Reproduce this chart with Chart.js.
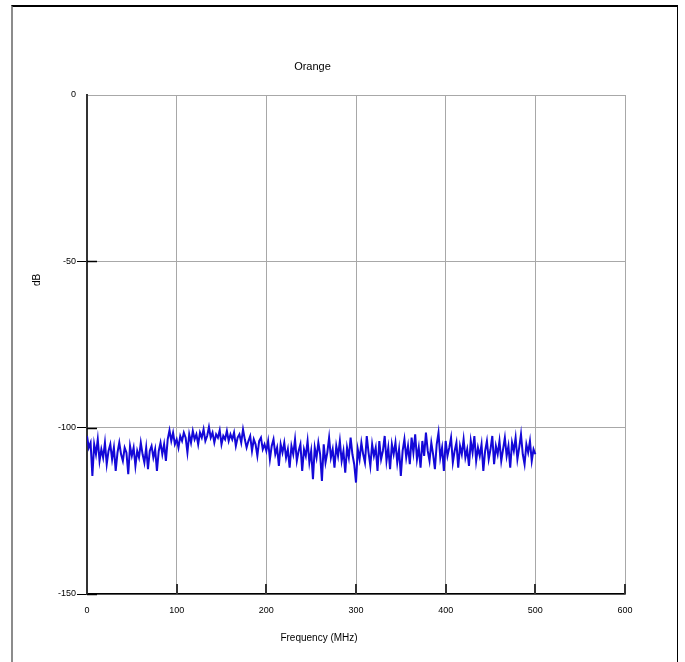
<!DOCTYPE html>
<html>
<head>
<meta charset="utf-8">
<title>Orange</title>
<script src="https://cdn.jsdelivr.net/npm/chart.js@4.4.1/dist/chart.umd.min.js"></script>
<style>
    body {
        margin: 0;
        background: #ffffff;
    }
    #wrap {
        position: relative;
        width: 685px;
        height: 662px;
        overflow: hidden;
    }
    #frame {
        position: absolute;
        left: 11px;
        top: 5px;
        width: 664px;
        height: 700px;
        border-top: 2px solid #000000;
        border-left: 2px solid #8c8c8c;
        border-right: 1px solid #000000;
        pointer-events: none;
    }
</style>
</head>
<body>
<div id="wrap">
    <canvas id="myChart" width="685" height="662"></canvas>
    <div id="frame"></div>
</div>
<script>
// sweep settings (MHz)
const freqStart = 0;
const freqStep = 2;

// measured level in dB, one value per 2 MHz step, 0 .. 500 MHz
const levelDb = [
    -102.5, -106, -104.5, -114.5, -105, -108, -103.5, -110, -106.5, -109,
    -104.5, -111, -107, -105, -109.5, -106, -113, -107.5, -104.5, -108,
    -110, -106, -107.5, -114, -105.5, -108.5, -106, -111.5, -107, -109,
    -104.5, -108, -110.5, -106, -112.5, -107, -105.5, -109, -106.5, -113,
    -107, -104.5, -108, -105, -110, -103.5, -100.8, -104, -101.5, -105,
    -103.5, -106, -102.5, -104, -101.5, -103, -107.5, -102, -104.5, -101,
    -103.5, -102, -105, -101.5, -103, -100.5, -104, -102.5, -99.8, -103,
    -101.5, -104.5, -102, -103, -100.8, -105, -102.5, -103.5, -101, -104,
    -102, -103.5, -101.5, -105.5, -103, -102, -104.5, -100.5, -103.5, -106,
    -104, -102.5, -107, -103.5, -105, -108.5, -104, -103, -106.5, -105,
    -107, -104, -109.5, -105.5, -103.5, -108, -106, -111.5, -105, -107.5,
    -104.5, -109, -106.5, -112, -105.5, -108, -103.5, -110, -107, -105,
    -113, -106.5, -108.5, -104, -110.5, -107, -115.5, -106, -109, -104.5,
    -108, -116, -105, -110.5, -107.5, -103, -109, -106.5, -112, -105.5,
    -108.5, -104, -110, -107, -113.5, -106, -109, -103, -108, -111,
    -116.5, -106.5, -109.5, -104.5, -108, -110.5, -102.5, -107.5, -111.5, -105,
    -108.5, -106, -113, -104, -109.5, -107, -102.5, -110, -106, -112.5,
    -105, -108, -104.5, -110.5, -106.5, -114.5, -107, -103.5, -109, -105.5,
    -111, -103, -107.5, -102, -109.5, -106, -112, -104, -108.5, -101.5,
    -107, -110, -104.5, -108, -112.5, -105, -101.5, -109, -106, -113,
    -104, -108.5, -106, -103, -110.5, -107, -104.5, -112, -105.5, -108,
    -103.5, -109, -106.5, -111.5, -104, -107.5, -102.5, -110, -106, -108.5,
    -105, -113, -107, -104, -109.5, -106.5, -102.5, -111, -105.5, -108,
    -104, -110, -106.5, -103, -108.5, -105.5, -112, -104.5, -107, -103,
    -109.5, -106, -102, -108, -111, -105, -107.5, -104, -110, -106.5,
    -108
];

// axis ranges and tick steps
const xRange = [0, 600];
const xStep = 100;
const yRange = [-150, 0];
const yStep = 50;

const titleText = 'Orange';
const xTitle = 'Frequency (MHz)';
const yTitle = 'dB';

const FONT = '"Liberation Sans", Arial, sans-serif';

// short dark tick marks drawn on the inside of both axes, plus the axis titles
const innerTicks = {
    id: 'innerTicks',
    afterDraw(chart) {
        const ctx = chart.ctx;
        const area = chart.chartArea;
        const xs = chart.scales.x;
        const ys = chart.scales.y;
        ctx.save();
        ctx.strokeStyle = '#333333';
        ctx.lineWidth = 2;
        xs.ticks.forEach((t) => {
            const px = Math.round(xs.getPixelForValue(t.value));
            ctx.beginPath();
            ctx.moveTo(px, area.bottom);
            ctx.lineTo(px, area.bottom - 10);
            ctx.stroke();
        });
        ctx.strokeStyle = '#000000';
        ctx.lineWidth = 1.5;
        ys.ticks.forEach((t) => {
            // no mark at the top of the axis
            if (t.value === yRange[1]) {
                return;
            }
            const py = Math.round(ys.getPixelForValue(t.value)) + 0.5;
            ctx.beginPath();
            ctx.moveTo(area.left, py);
            ctx.lineTo(area.left + 10, py);
            ctx.stroke();
        });

        // axis titles
        ctx.fillStyle = '#000000';
        ctx.font = '10px ' + FONT;
        ctx.textAlign = 'center';
        ctx.textBaseline = 'middle';
        ctx.fillText(xTitle, 319, 638);
        ctx.translate(37, 280);
        ctx.rotate(-Math.PI / 2);
        ctx.fillText(yTitle, 0, 0);
        ctx.restore();
    }
};

document.addEventListener('DOMContentLoaded', function () {
    const points = levelDb.map((v, i) => ({ x: freqStart + i * freqStep, y: v }));
    const chartElement = document.getElementById('myChart').getContext('2d');

    window.myChart = new Chart(chartElement, {
        type: 'line',
        data: {
            datasets: [
                {
                    label: titleText,
                    data: points,
                    borderColor: '#1408d8',
                    borderWidth: 2,
                    pointRadius: 0,
                    tension: 0,
                    fill: false
                }
            ]
        },
        options: {
            responsive: false,
            animation: false,
            events: [],
            layout: {
                padding: { left: 0, right: 60, top: 0, bottom: 0 }
            },
            plugins: {
                legend: { display: false },
                tooltip: { enabled: false },
                title: {
                    display: true,
                    text: titleText,
                    color: '#000000',
                    font: { family: FONT, size: 11, weight: 'normal', lineHeight: 1.2 },
                    padding: { top: 60.4, bottom: 21.4 }
                }
            },
            scales: {
                x: {
                    type: 'linear',
                    min: xRange[0],
                    max: xRange[1],
                    afterFit: (scale) => { scale.height = 68; },
                    ticks: {
                        stepSize: xStep,
                        color: '#000000',
                        font: { family: FONT, size: 9 },
                        padding: 11,
                        maxRotation: 0
                    },
                    grid: {
                        color: '#a8a8a8',
                        lineWidth: 1,
                        drawTicks: false
                    },
                    border: { color: '#000000', width: 1.5 }
                },
                y: {
                    type: 'linear',
                    min: yRange[0],
                    max: yRange[1],
                    afterFit: (scale) => { scale.width = 87; },
                    ticks: {
                        stepSize: yStep,
                        color: '#000000',
                        font: { family: FONT, size: 9 },
                        padding: 1
                    },
                    grid: {
                        color: '#a8a8a8',
                        lineWidth: 1,
                        tickLength: 10,
                        tickColor: (c) => (c.tick && c.tick.value === yRange[1] ? 'rgba(0,0,0,0)' : '#000000')
                    },
                    border: { color: '#333333', width: 2 }
                }
            }
        },
        plugins: [innerTicks]
    });
});
</script>
</body>
</html>
